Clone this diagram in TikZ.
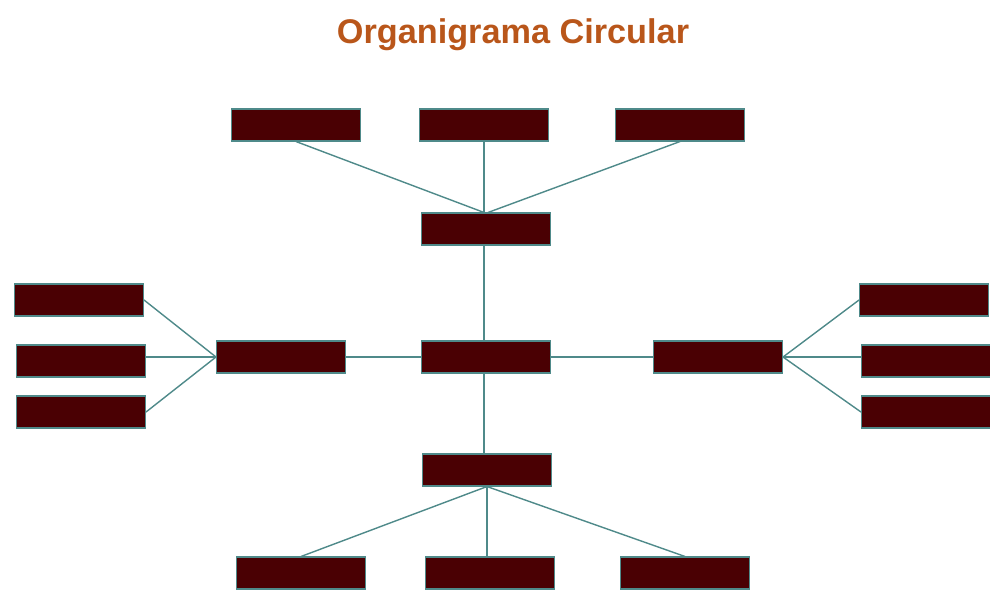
\documentclass[tikz,border=0pt]{standalone}
\usepackage{fontspec}
\setmainfont{Liberation Sans}
\usetikzlibrary{positioning}
\definecolor{maroon}{HTML}{4A0003}
\definecolor{tealline}{HTML}{4F8A8A}
\definecolor{titleorange}{HTML}{B9561A}

\begin{document}
\begin{tikzpicture}[
  x=0.02cm, y=-0.02cm,
  unit/.style={draw=tealline, line width=0.6pt, fill=maroon, minimum width=2.58cm, minimum height=0.64cm, inner sep=0pt},
  title/.style={font=\bfseries\fontsize{19.5}{22}\selectfont, text=titleorange},
  trunk/.style={draw=tealline, line width=1.4pt},
  link/.style={draw=tealline, line width=0.8pt},
]
\useasboundingbox (0,0) rectangle (990,589);
\node[title] (head) at (513,35) {Organigrama Circular};
% top row
\node[unit] (t1) at (296,125) {};
\node[unit] (t2) at (484,125) {};
\node[unit] (t3) at (680,125) {};
% central axis
\node[unit] (up) at (486,229) {};
\node[unit] (mid) at (486,357) {};
\node[unit] (dn) at (487,470) {};
\node[unit] (lm) at (281,357) {};
\node[unit] (rm) at (718,357) {};
% left column
\node[unit] (l1) at (79,300) {};
\node[unit] (l2) at (81,361) {};
\node[unit] (l3) at (81,412) {};
% right column
\node[unit] (r1) at (924,300) {};
\node[unit] (r2) at (926,361) {};
\node[unit] (r3) at (926,412) {};
% bottom row
\node[unit] (b1) at (301,573) {};
\node[unit] (b2) at (490,573) {};
\node[unit] (b3) at (685,573) {};
% connectors
\draw[link] (t1.south) -- ([xshift=-0.04cm]up.north);
\draw[trunk] (t2.south) -- (t2.south |- up.north);
\draw[link] (t3.south) -- ([xshift=0.04cm]up.north);
\draw[trunk] (t2.south |- up.south) -- (t2.south |- mid.north);
\draw[trunk] (t2.south |- mid.south) -- (t2.south |- dn.north);
\draw[link] (mid) -- (lm);
\draw[link] (mid) -- (rm);
\draw[link] (l1.east) -- (lm.west);
\draw[link] (l2.east |- lm.west) -- (lm.west);
\draw[link] (l3.east) -- (lm.west);
\draw[link] (r1.west) -- (rm.east);
\draw[link] (r2.west |- rm.east) -- (rm.east);
\draw[link] (r3.west) -- (rm.east);
\draw[link] (dn.south) -- (b1.north);
\draw[trunk] (dn.south) -- (dn.south |- b2.north);
\draw[link] (dn.south) -- (b3.north);
\end{tikzpicture}
\end{document}
